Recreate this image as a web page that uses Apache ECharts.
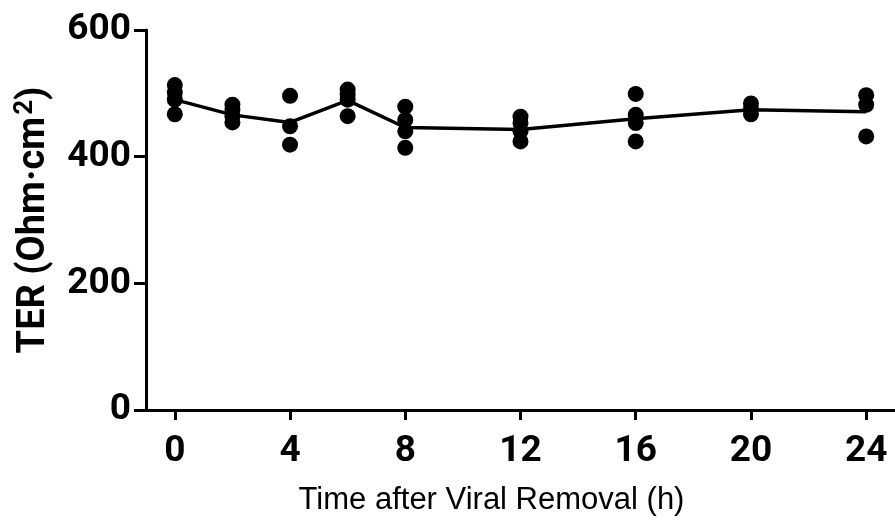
<!DOCTYPE html>
<html>
<head>
<meta charset="utf-8">
<title>TER</title>
<script src="https://cdn.jsdelivr.net/npm/echarts@6/dist/echarts.min.js"></script>
</head>
<body style="margin:0">
<div id="main" style="width:895px;height:521px;"></div>
<script type="text/javascript">
// time points (h) and the single readings at each
var hours = [0, 2, 4, 6, 8, 12, 16, 20, 24];
var readings = [
    [513, 501, 490, 467],
    [482, 474, 464, 454],
    [496, 448, 419],
    [506, 498, 490, 464],
    [479, 458, 440, 414],
    [463, 453, 440, 424],
    [499, 466, 453, 424],
    [484, 475, 467],
    [497, 482, 432]
];
// mean line
var means = [490, 466, 454, 489, 446, 443, 460, 474, 471];
var xTicks = [0, 4, 8, 12, 16, 20, 24];

var points = [];
hours.forEach(function (h, i) {
    readings[i].forEach(function (v) { points.push([h, v]); });
});
var meanLine = hours.map(function (h, i) { return [h, means[i]]; });

var myChart = echarts.init(document.getElementById('main'));
var axisStyle = { color: '#000', width: 3 };
var tickFont = { color: '#000', fontFamily: 'Roboto', fontWeight: 'bold', fontSize: 37 };

var option = {
    animation: false,
    grid: { left: 146, right: 0, top: 30, bottom: 109 },
    xAxis: {
        type: 'value',
        min: -1,
        max: 25,
        name: 'Time after Viral Removal (h)',
        nameLocation: 'middle',
        nameGap: 75,
        nameTextStyle: {
            color: '#000', fontFamily: 'Liberation Sans', fontSize: 31,
            padding: [0, 58, 0, 0]
        },
        axisLine: { show: true, lineStyle: axisStyle },
        axisTick: { show: true, length: 10, lineStyle: axisStyle, customValues: xTicks },
        axisLabel: Object.assign({ customValues: xTicks, margin: 23 }, tickFont),
        splitLine: { show: false }
    },
    yAxis: {
        type: 'value',
        min: 0,
        max: 600,
        interval: 200,
        name: 'TER (Ohm·cm{sup|2})',
        nameLocation: 'middle',
        nameRotate: 90,
        nameGap: 90,
        nameTextStyle: {
            color: '#000', fontFamily: 'Roboto', fontWeight: 'bold', fontSize: 38,
            lineHeight: 44,
            rich: {
                sup: {
                    color: '#000', fontFamily: 'Roboto', fontWeight: 'bold',
                    fontSize: 26, lineHeight: 44, verticalAlign: 'top', padding: [0, 0, 0, 2]
                }
            }
        },
        axisLine: { show: true, onZero: false, lineStyle: axisStyle },
        axisTick: { show: true, length: 12, lineStyle: axisStyle },
        axisLabel: Object.assign({ margin: 15 }, tickFont),
        splitLine: { show: false }
    },
    series: [
        {
            type: 'line',
            data: meanLine,
            symbol: 'none',
            lineStyle: { color: '#000', width: 3.5 }
        },
        {
            type: 'scatter',
            data: points,
            symbolSize: 16,
            itemStyle: { color: '#000', opacity: 1 }
        }
    ]
};

myChart.setOption(option);
</script>
</body>
</html>
